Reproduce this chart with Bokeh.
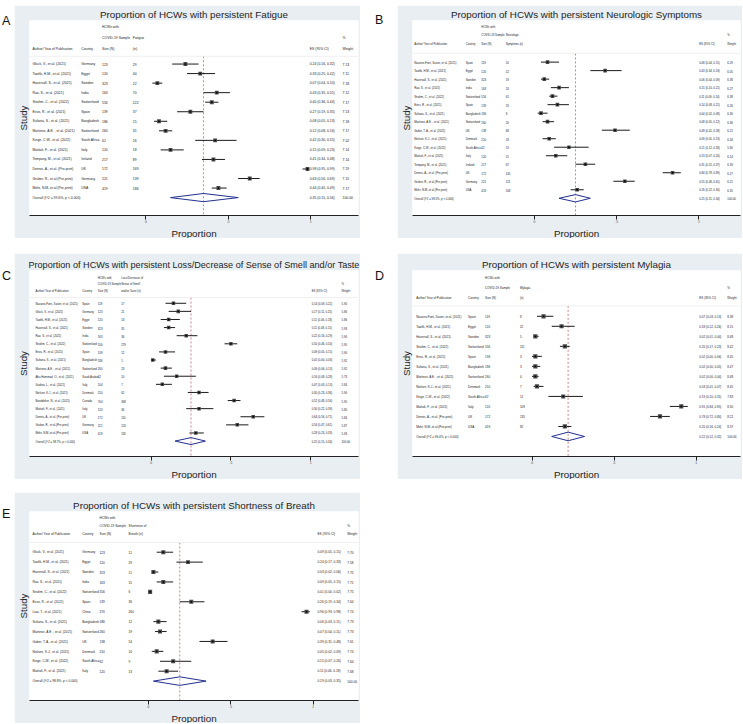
import math
from bokeh.plotting import figure
from bokeh.models import Range1d, FixedTicker, ColumnDataSource, Span, Div, Spacer, Title
from bokeh.layouts import row, column
from bokeh.core.properties import value
from bokeh.embed import file_html
from bokeh.resources import INLINE

FONT = "Liberation Sans"
GRAY = "#e8eef2"

# ---------------- DATA ----------------
# A: Fatigue
a_authors = ["Glück, V., et al. (2021)", "Tawfik, H.M., et al. (2021)", "Havervall, S., et al. (2021)",
             "Rao, S., et al. (2021)", "Strahm, C., et al. (2022)", "Eiros, R., et al. (2021)",
             "Sultana, S., et al. (2021)", "Martinez, A.E. , et al. (2021)", "Kinge, C.W., et al. (2022)",
             "Mattioli, F., et al. (2021)", "Tempany, M., et al. (2021)", "Dennis, A., et al. (Pre-print)",
             "Gruber, R., et al.(Pre-print)", "Mehr, N.M.,et al.(Pre-print)"]
a_countries = ["Germany", "Egypt", "Sweden", "India", "Switzerland", "Spain", "Bangladesh", "Switzerland",
               "South Africa", "Italy", "Ireland", "UK", "Germany", "USA"]
a_N = [123, 120, 323, 163, 556, 139, 186, 260, 62, 120, 217, 172, 221, 419]
a_n = [29, 40, 22, 70, 222, 37, 15, 31, 26, 18, 89, 169, 139, 186]
a_es = [0.24, 0.33, 0.07, 0.43, 0.40, 0.27, 0.08, 0.12, 0.42, 0.15, 0.41, 0.98, 0.63, 0.44]
a_lo = [0.16, 0.25, 0.04, 0.35, 0.36, 0.19, 0.05, 0.08, 0.30, 0.09, 0.34, 0.95, 0.56, 0.40]
a_hi = [0.32, 0.42, 0.10, 0.51, 0.44, 0.35, 0.13, 0.16, 0.55, 0.23, 0.48, 0.99, 0.69, 0.49]
a_w = [7.13, 7.11, 7.18, 7.12, 7.17, 7.13, 7.18, 7.17, 7.02, 7.14, 7.14, 7.19, 7.15, 7.17]
a_overall = [0.35, 0.15, 0.56]
a_het = "Overall  (I^2 = 99.6%, p < 0.000)"

# B: Neurologic symptoms
b_authors = ["Navarro-Font, Xavier, et al. (2021)", "Tawfik, H.M., et al. (2021)", "Havervall, S., et al. (2021)",
             "Rao, S., et al. (2021)", "Strahm, C., et al. (2022)", "Eiros, R., et al. (2021)",
             "Sultana, S., et al. (2021)", "Martinez, A.E. , et al. (2021)", "Gaber, T. A., et al. (2021)",
             "Nielsen, K.J., et al. (2021)", "Kinge, C.W., et al. (2022)", "Mattioli, F., et al. (2021)",
             "Tempany, M., et al. (2021)", "Dennis, A., et al. (Pre-print)", "Gruber, R., et al.(Pre-print)",
             "Mehr, N.M.,et al.(Pre-print)"]
b_countries = ["Spain", "Egypt", "Sweden", "India", "Switzerland", "Spain", "Bangladesh", "Switzerland", "UK",
               "Denmark", "South Africa", "Italy", "Ireland", "UK", "Germany", "USA"]
b_N = [119, 120, 323, 163, 556, 139, 186, 260, 138, 210, 62, 120, 217, 172, 221, 419]
b_n = [10, 52, 19, 24, 61, 19, 8, 20, 68, 18, 13, 15, 67, 145, 121, 108]
b_es = [0.08, 0.43, 0.06, 0.15, 0.11, 0.14, 0.04, 0.08, 0.49, 0.09, 0.21, 0.13, 0.31, 0.84, 0.55, 0.26]
b_lo = [0.04, 0.34, 0.04, 0.10, 0.09, 0.08, 0.02, 0.05, 0.41, 0.05, 0.12, 0.07, 0.25, 0.78, 0.48, 0.22]
b_hi = [0.15, 0.53, 0.09, 0.21, 0.14, 0.21, 0.08, 0.12, 0.58, 0.13, 0.33, 0.20, 0.37, 0.89, 0.61, 0.30]
b_w = [6.29, 6.05, 6.38, 6.27, 6.38, 6.26, 6.36, 6.36, 6.21, 6.34, 5.80, 6.14, 6.33, 6.27, 6.21, 6.35]
b_overall = [0.25, 0.15, 0.34]
b_het = "Overall  (I^2 = 98.5%, p < 0.000)"

# C: Loss/decrease of smell and/or taste
c_authors = ["Navarro-Font, Xavier, et al. (2021)", "Glück, V., et al. (2021)", "Tawfik, H.M., et al. (2021)",
             "Havervall, S., et al. (2021)", "Rao, S., et al. (2021)", "Strahm, C., et al. (2022)",
             "Eiros, R., et al. (2021)", "Sultana, S., et al. (2021)", "Martinez, A.E. , et al. (2021)",
             "Abu Hammad, O., et al. (2021)", "Gudina, L., et al. (2021)", "Nielsen, K.J., et al. (2021)",
             "Boeddeker, N., et al. (2021)", "Mattioli, F., et al. (2021)", "Dennis, A., et al. (Pre-print)",
             "Gruber, R., et al.(Pre-print)", "Mehr, N.M.,et al.(Pre-print)"]
c_countries = ["Spain", "Germany", "Egypt", "Sweden", "India", "Switzerland", "Spain", "Bangladesh",
               "Switzerland", "Saudi Arabia", "Italy", "Denmark", "Canada", "Italy", "UK", "Germany", "USA"]
c_N = [119, 123, 120, 323, 163, 556, 139, 186, 260, 62, 104, 210, 704, 120, 172, 221, 419]
c_n = [17, 21, 13, 35, 36, 279, 12, 1, 23, 10, 7, 62, 368, 36, 110, 120, 118]
c_es = [0.14, 0.17, 0.11, 0.11, 0.22, 0.50, 0.09, 0.01, 0.09, 0.16, 0.07, 0.30, 0.52, 0.30, 0.64, 0.54, 0.28]
c_lo = [0.09, 0.11, 0.06, 0.08, 0.16, 0.46, 0.05, 0.00, 0.06, 0.08, 0.03, 0.23, 0.48, 0.22, 0.56, 0.47, 0.24]
c_hi = [0.22, 0.25, 0.18, 0.15, 0.29, 0.54, 0.15, 0.03, 0.13, 0.28, 0.13, 0.36, 0.56, 0.39, 0.71, 0.61, 0.33]
c_w = [5.90, 5.86, 5.86, 5.93, 5.90, 5.95, 5.90, 5.92, 5.92, 5.73, 5.84, 5.90, 5.95, 5.80, 5.84, 5.87, 5.93]
c_overall = [0.25, 0.15, 0.34]
c_het = "Overall  (I^2 = 98.7%, p < 0.000)"

# D: Myalgia
d_authors = ["Navarro-Font, Xavier, et al. (2021)", "Tawfik, H.M., et al. (2021)", "Havervall, S., et al. (2021)",
             "Strahm, C., et al. (2022)", "Eiros, R., et al. (2021)", "Sultana, S., et al. (2021)",
             "Martinez, A.E. , et al. (2021)", "Nielsen, K.J., et al. (2021)", "Kinge, C.W., et al. (2022)",
             "Mattioli, F., et al. (2021)", "Dennis, A., et al. (Pre-print)", "Mehr, N.M.,et al.(Pre-print)"]
d_countries = ["Spain", "Egypt", "Sweden", "Switzerland", "Spain", "Bangladesh", "Switzerland", "Denmark",
               "South Africa", "Italy", "UK", "USA"]
d_N = [119, 120, 323, 556, 139, 186, 260, 210, 62, 120, 172, 419]
d_n = [8, 22, 5, 111, 3, 3, 4, 7, 12, 109, 135, 82]
d_es = [0.07, 0.18, 0.02, 0.20, 0.02, 0.02, 0.02, 0.03, 0.19, 0.91, 0.78, 0.20]
d_lo = [0.03, 0.12, 0.01, 0.17, 0.00, 0.00, 0.00, 0.01, 0.10, 0.84, 0.72, 0.16]
d_hi = [0.13, 0.26, 0.04, 0.23, 0.06, 0.05, 0.04, 0.07, 0.31, 0.95, 0.84, 0.24]
d_w = [8.38, 8.15, 8.48, 8.42, 8.45, 8.47, 8.48, 8.45, 7.83, 8.30, 8.22, 8.37]
d_overall = [0.22, 0.12, 0.32]
d_het = "Overall  (I^2 = 99.4%, p < 0.000)"

# E: Shortness of breath
e_authors = ["Glück, V., et al. (2021)", "Tawfik, H.M., et al. (2021)", "Havervall, S., et al. (2021)",
             "Rao, S., et al. (2021)", "Strahm, C., et al. (2022)", "Eiros, R., et al. (2021)",
             "Liao, T., et al. (2021)", "Sultana, S., et al. (2021)", "Martinez, A.E. , et al. (2021)",
             "Gaber, T. A., et al. (2021)", "Nielsen, K.J., et al. (2021)", "Kinge, C.W., et al. (2022)",
             "Mattioli, F., et al. (2021)"]
e_countries = ["Germany", "Egypt", "Sweden", "India", "Switzerland", "Spain", "China", "Bangladesh",
               "Switzerland", "UK", "Denmark", "South Africa", "Italy"]
e_N = [123, 120, 323, 163, 556, 139, 270, 186, 260, 138, 210, 62, 120]
e_n = [11, 29, 11, 15, 6, 36, 260, 12, 19, 54, 10, 9, 13]
e_es = [0.09, 0.24, 0.03, 0.09, 0.01, 0.26, 0.96, 0.06, 0.07, 0.39, 0.05, 0.15, 0.11]
e_lo = [0.05, 0.17, 0.02, 0.05, 0.00, 0.19, 0.93, 0.03, 0.04, 0.31, 0.02, 0.07, 0.06]
e_hi = [0.15, 0.33, 0.06, 0.15, 0.02, 0.34, 0.98, 0.11, 0.11, 0.48, 0.09, 0.26, 0.18]
e_w = [7.70, 7.58, 7.75, 7.71, 7.75, 7.64, 7.74, 7.73, 7.73, 7.61, 7.74, 7.64, 7.68]
e_overall = [0.19, 0.03, 0.35]
e_het = "Overall  (I^2 = 98.8%, p < 0.000)"

# ---------------- LAYOUT (reference pixel geometry) ----------------
GEO_A = dict(fl=27, fr=358, ft=18, fb=219.5, tick0=144, tick1=310, first=63, last=201,
             heads=[25, 36, 47], sep=55, font="3.4px",
             cols=dict(author=30, country=79, size=100, n=131, es=309, wt=342))
GEO_B = dict(fl=409, fr=740, ft=18, fb=219.5, tick0=532, tick1=698, first=61, last=201.7,
             heads=[24, 33, 42], sep=52, font="2.8px",
             cols=dict(author=410.7, country=462.7, size=478.5, n=503, es=698.3, wt=726.7))
GEO_C = dict(fl=27, fr=357, ft=270, fb=463, tick0=149, tick1=309, first=304, last=447,
             heads=[277, 284, 291], sep=298, font="2.8px",
             cols=dict(author=33, country=80, size=95.5, n=119, es=310, wt=340))
GEO_D = dict(fl=408, fr=740, ft=268, fb=463, tick0=529, tick1=695, first=316, last=442,
             heads=[275, 286, 297], sep=305, font="3.0px",
             cols=dict(author=411.7, country=464.3, size=481.5, n=516.7, es=698.3, wt=726.7))
GEO_E = dict(fl=27, fr=358, ft=511, fb=706, tick0=146.7, tick1=312.3, first=553, last=686,
             heads=[517, 526, 534], sep=543, font="3.2px",
             cols=dict(author=30, country=80, size=97.5, n=126.7, es=316.7, wt=346.7))


def fmt(e, l, h):
    return f"{e:.2f} ({l:.2f}, {h:.2f})"


def panel(title, title_size, n_head, authors, countries, N, n, es, lo, hi, w, overall, het,
          geo, width, height, top_border, bottom_border):
    k = len(authors)
    t0, t1 = geo["tick0"], geo["tick1"]
    TXT = dict(text_font=value(FONT), text_font_size=geo["font"], text_baseline="middle",
               text_align="left", text_color="#222222")

    def X(px):
        return (px - t0) / (t1 - t0)

    s = (geo["last"] - geo["first"]) / k

    def Y(px):
        return (px - geo["first"]) / s

    p = figure(width=width, height=height,
               x_range=Range1d(X(geo["fl"]), X(geo["fr"])),
               y_range=Range1d(Y(geo["fb"]), Y(geo["ft"])),
               output_backend="svg", toolbar_location=None, title=title,
               min_border_left=0, min_border_right=2,
               min_border_top=top_border, min_border_bottom=bottom_border)
    p.border_fill_color = GRAY
    p.background_fill_color = "white"
    p.outline_line_color = None
    p.grid.visible = False

    p.title.align = "center"
    p.title.text_font = FONT
    p.title.text_font_size = title_size
    p.title.text_font_style = "normal"
    p.title.text_color = "#1e1e1e"
    p.title.standoff = 2

    xa = p.xaxis[0]
    xa.ticker = FixedTicker(ticks=[0, 0.5, 1])
    xa.major_label_overrides = {0: "0", 0.5: ".5", 1: "1"}
    xa.minor_tick_line_color = None
    xa.major_tick_out = 4
    xa.major_tick_in = 0
    xa.major_tick_line_color = "#222222"
    xa.axis_line_color = "#222222"
    xa.major_label_text_font = FONT
    xa.major_label_text_font_size = "3.3px"
    xa.major_label_standoff = 0

    xt = Title(text="Proportion", align="center", text_font=FONT, text_font_size="9.8px",
               text_font_style="normal", text_color="#1e1e1e", standoff=0)
    p.add_layout(xt, "below")

    ya = p.yaxis[0]
    ya.ticker = FixedTicker(ticks=[])
    ya.major_tick_out = 0
    ya.major_tick_in = 0
    ya.minor_tick_line_color = None
    ya.major_label_text_font_size = "0px"
    ya.axis_line_color = None
    ya.axis_label = "Study"
    ya.axis_label_text_font = FONT
    ya.axis_label_text_font_size = "9.8px"
    ya.axis_label_text_font_style = "normal"
    ya.axis_label_text_color = "#1e1e1e"
    ya.axis_label_standoff = 1

    cols = geo["cols"]

    # header
    head_cols = [("author", ["", "", "Author/ Year of Publication"]),
                 ("country", ["", "", "Country"]),
                 ("size", ["HCWs with", "COVID-19 Sample", "Size (N)"]),
                 ("n", n_head),
                 ("es", ["", "", "ES (95% CI)"]),
                 ("wt", ["", "%", "Weight"])]
    hx, hy, ht = [], [], []
    for key, lines in head_cols:
        for ln, t in zip(geo["heads"], lines):
            if t:
                hx.append(X(cols[key]))
                hy.append(Y(ln))
                ht.append(t)
    p.text(x="x", y="y", text="t", source=ColumnDataSource(dict(x=hx, y=hy, t=ht)), **TXT)

    p.add_layout(Span(location=Y(geo["sep"]), dimension="width", line_color="#ececec", line_width=0.8))

    # overall dashed line
    p.segment(x0=overall[0], y0=Y(geo["sep"]), x1=overall[0], y1=Y(geo["fb"]),
              line_color="#c86e6e", line_width=1, line_dash="2 2", line_alpha=0.85)

    src = ColumnDataSource(dict(
        idx=list(range(k)), author=authors, country=countries,
        N=[str(v) for v in N], n=[str(v) for v in n],
        es=es, lo=lo, hi=hi,
        est=[fmt(a, b, c) for a, b, c in zip(es, lo, hi)],
        wt=[f"{v:.2f}" for v in w],
        sz=[1.45 * math.sqrt(v) for v in w]))

    for field, key in [("author", "author"), ("country", "country"), ("N", "size"),
                       ("n", "n"), ("est", "es"), ("wt", "wt")]:
        p.text(x=X(cols[key]), y="idx", text=field, source=src, **TXT)

    p.segment(x0="lo", y0="idx", x1="hi", y1="idx", source=src, line_color="black", line_width=0.9)
    p.scatter(x="es", y="idx", size="sz", marker="square", source=src,
              fill_color="#4a4a4a", line_color=None)
    p.scatter(x="es", y="idx", size=1.8, marker="circle", source=src,
              fill_color="black", line_color=None)

    osrc = ColumnDataSource(dict(idx=[k], author=[het], est=[fmt(*overall)], wt=["100.00"]))
    for field, key in [("author", "author"), ("est", "es"), ("wt", "wt")]:
        p.text(x=X(cols[key]), y="idx", text=field, source=osrc, **TXT)

    h = 0.43
    p.patch(x=[overall[1], overall[0], overall[2], overall[0], overall[1]],
            y=[k, k - h, k, k + h, k],
            fill_color=None, line_color="#23308f", line_width=1)
    return p


# page geometry (the page body has no margin: the layout starts at 0,0)
TOP = 5
H1, GAP1, H2, GAP2, H3 = 233, 15, 226, 13, 231
LEFT, WA, MID, WB = 14, 346, 37, 345
ROW2_TOP = TOP + H1 + GAP1
ROW3_TOP = ROW2_TOP + H2 + GAP2

pA = panel("Proportion of HCWs with persistent Fatigue", "9.8px", ["", "Fatigue", "(n)"],
           a_authors, a_countries, a_N, a_n, a_es, a_lo, a_hi, a_w, a_overall, a_het, GEO_A, WA, H1, 13, 18)
pB = panel("Proportion of HCWs with persistent Neurologic Symptoms", "9.8px",
           ["", "Neurologic", "Symptoms (n)"],
           b_authors, b_countries, b_N, b_n, b_es, b_lo, b_hi, b_w, b_overall, b_het, GEO_B, WB, H1, 13, 18)
pC = panel("Proportion of HCWs with persistent Loss/Decrease of Sense of Smell and/or Taste", "9.1px",
           ["Loss/Decrease of", "Sense of Smell", "and/or Taste (n)"],
           c_authors, c_countries, c_N, c_n, c_es, c_lo, c_hi, c_w, c_overall, c_het, GEO_C, WA, H2, 17, 16)
pD = panel("Proportion of HCWs with persistent Mylagia", "9.8px", ["", "Mylagia", "(n)"],
           d_authors, d_countries, d_N, d_n, d_es, d_lo, d_hi, d_w, d_overall, d_het, GEO_D, WB, H2, 15, 16)
pE = panel("Proportion of HCWs with persistent Shortness of Breath", "9.8px",
           ["", "Shortness of", "Breath (n)"],
           e_authors, e_countries, e_N, e_n, e_es, e_lo, e_hi, e_w, e_overall, e_het, GEO_E, WA, H3, 19, 17)

# panel letters (page coordinates of the cap top-left), drawn in an overlay of zero height
letters = [("A", 2, 5), ("B", 375, 4), ("C", 2, 260), ("D", 375, 260), ("E", 2, 498)]
spans = "".join(
    f'<span style="position:absolute;left:{x}px;top:{y - 1.6:.1f}px;font-family:\'{FONT}\';'
    f'font-size:12.5px;line-height:12.5px;color:#111;white-space:nowrap">{ch}</span>'
    for ch, x, y in letters)
overlay = Div(text=f'<div style="position:relative;width:742px;height:0px">{spans}</div>',
              width=742, height=0, margin=0)

r1 = row(Spacer(width=LEFT, height=H1), pA, Spacer(width=MID, height=H1), pB, spacing=0)
r2 = row(Spacer(width=LEFT, height=H2), pC, Spacer(width=MID, height=H2), pD, spacing=0)
r3 = row(Spacer(width=LEFT, height=H3), pE, spacing=0)
layout = column(overlay, Spacer(width=10, height=TOP), r1, Spacer(width=10, height=GAP1), r2,
                Spacer(width=10, height=GAP2), r3, spacing=0)

open("out.html", "w").write(file_html(layout, INLINE))
